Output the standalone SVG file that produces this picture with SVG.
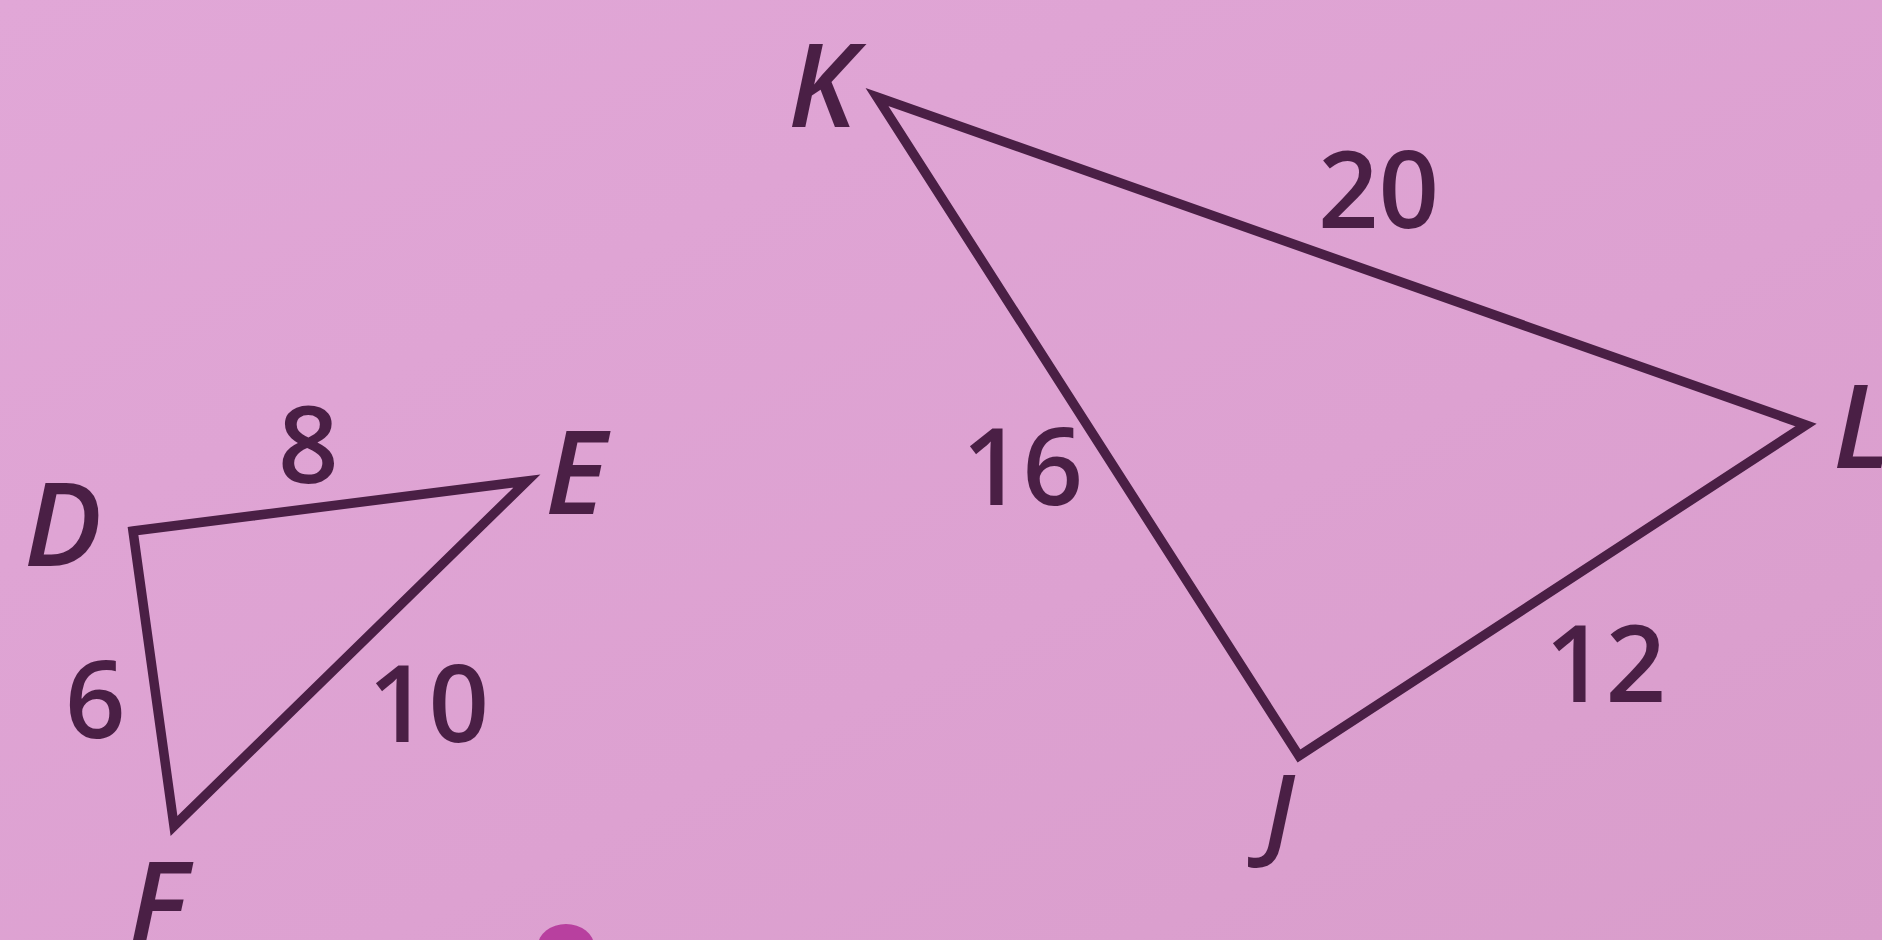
<svg xmlns="http://www.w3.org/2000/svg" width="1882" height="940" viewBox="0 0 1882 940">
<defs>
<style>
.edge{fill:none;stroke:#4a1f45;stroke-width:9.5;stroke-linejoin:miter;stroke-miterlimit:10}
.num{font-family:"Open Sans","Liberation Sans",sans-serif;font-weight:600;font-size:106px;fill:#4a1f45}
.vtx{font-family:"Open Sans","Liberation Sans",sans-serif;font-weight:600;font-style:italic;font-size:116px;fill:#4a1f45}
</style>
<linearGradient id="bg" x1="0" y1="0" x2="1" y2="1">
<stop offset="0" stop-color="#e1a7d7"/>
<stop offset="0.6" stop-color="#dda1d1"/>
<stop offset="1" stop-color="#d99dcb"/>
</linearGradient>
</defs>
<rect width="1882" height="940" fill="url(#bg)"/>
<g id="connectors">
<polygon id="tri-DEF" class="edge" points="133,531 527,481 174,826"/>
<polygon id="tri-KLJ" class="edge" points="877,97 1806,425 1299,756"/>
</g>
<g id="node-D"><text class="vtx" x="24" y="566">D</text></g>
<g id="node-E"><text class="vtx" x="545" y="514">E</text></g>
<g id="node-F"><text class="vtx" x="128" y="945">F</text></g>
<g id="node-K"><text class="vtx" x="788" y="127">K</text></g>
<g id="node-L"><text class="vtx" x="1833" y="468">L</text></g>
<g id="node-J"><text class="vtx" x="1264" y="848" style="font-size:102px">J</text></g>
<g id="label-8"><text class="num" x="278" y="483">8</text></g>
<g id="label-6"><text class="num" x="65" y="738">6</text></g>
<g id="label-10"><text class="num" x="368" y="742">10</text></g>
<g id="label-20"><text class="num" x="1318" y="228">20</text></g>
<g id="label-16"><text class="num" x="962" y="505">16</text></g>
<g id="label-12"><text class="num" x="1545" y="702">12</text></g>
<ellipse cx="566" cy="946" rx="28" ry="22" fill="#b8409f"/>
</svg>
